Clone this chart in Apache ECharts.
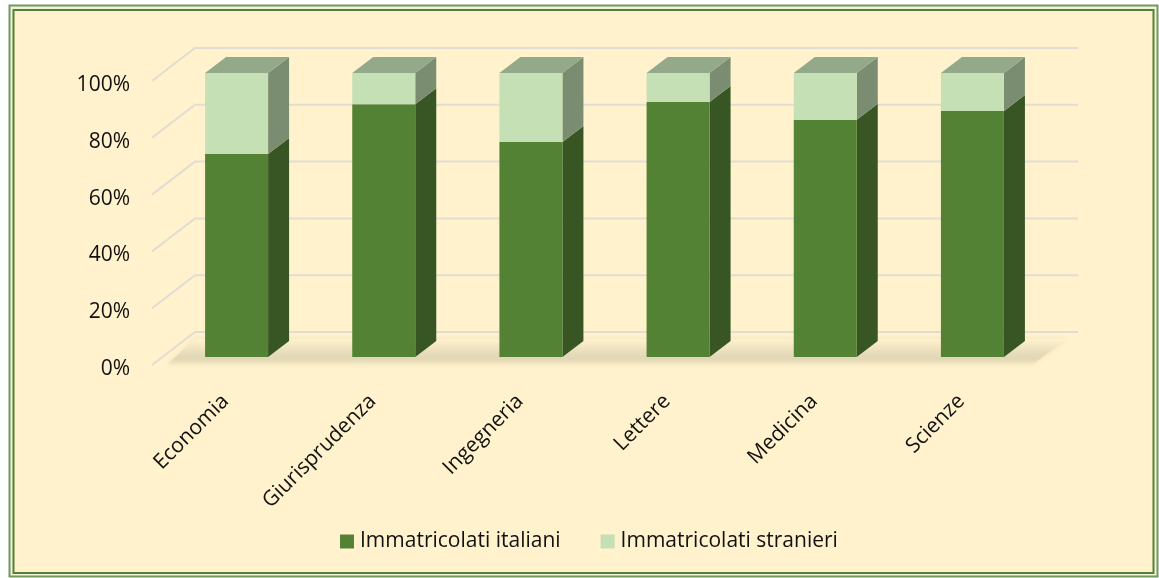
<!DOCTYPE html>
<html><head><meta charset="utf-8">
<style>html,body{margin:0;padding:0;background:#fff}#c{width:1159px;height:578px}</style>
<script src="https://cdn.jsdelivr.net/npm/echarts@6/dist/echarts.min.js"></script>
</head><body><div id="c"></div>
<script>
const categories = ['Economia','Giurisprudenza','Ingegneria','Lettere','Medicina','Scienze'];
const italiani = [71.5,89,75.7,89.8,83.5,86.6];
const stranieri = [28.5,11,24.3,10.2,16.5,13.4];
const yTicks = [0,20,40,60,80,100];
const SER1='Immatricolati italiani', SER2='Immatricolati stranieri';
const FONT='"Open Sans", sans-serif';

const chart = echarts.init(document.getElementById('c'));
const DX=21, DY=16, BX=11, BY=-8, BW=63, WX=43, WY=33;

function barItem(front, side, top, drawTop){
  return function(p, api){
    const i=api.value(0), a=api.value(1), b=api.value(2);
    const c0=api.coord([i,a]), c1=api.coord([i,a+b]);
    const L=c0[0]+BX-BW/2, R=L+BW, Y0=c0[1]+BY, Y1=c1[1]+BY;
    const ch=[
      {type:'polygon',shape:{points:[[R,Y0],[R+DX,Y0-DY],[R+DX,Y1-DY],[R,Y1]]},style:{fill:side}},
      {type:'rect',shape:{x:L,y:Y1,width:BW,height:Y0-Y1},style:{fill:front}}
    ];
    if(drawTop) ch.push({type:'polygon',shape:{points:[[L,Y1],[R,Y1],[R+DX,Y1-DY],[L+DX,Y1-DY]]},style:{fill:top}});
    return {type:'group',children:ch};
  };
}
chart.setOption({
  animation:false,
  backgroundColor:'#fff',
  textStyle:{fontFamily:FONT},
  graphic:[
    {type:'rect',z:-10,silent:true,shape:{x:9.5,y:5.5,width:1148,height:571},style:{fill:'#f3f0dc',stroke:'#6f9a5a',lineWidth:2}},
    {type:'rect',z:-9,silent:true,shape:{x:13.5,y:10,width:1140,height:563},style:{fill:'#fff2cc',stroke:'#548235',lineWidth:2}}
  ],
  grid:{left:152,top:81,width:883,height:284,containLabel:false},
  legend:{left:335,top:526,itemWidth:14,itemHeight:14,itemGap:40,icon:'rect',
    textStyle:{fontFamily:FONT,fontSize:21,color:'#111',padding:[0,0,0,1]},data:[SER1,SER2]},
  xAxis:{type:'category',data:categories,axisLine:{show:false},axisTick:{show:false},
    axisLabel:{rotate:45,fontSize:21,color:'#111',margin:33,interval:0,fontFamily:FONT}},
  yAxis:{type:'value',min:0,max:100,interval:20,splitLine:{show:false},axisLine:{show:false},axisTick:{show:false},
    axisLabel:{formatter:'{a|{value}%}',margin:22,
      rich:{a:{fontSize:21,color:'#111',fontFamily:FONT,padding:[8,0,0,0]}}}},
  series:[
    {type:'custom',name:'floor',silent:true,z:1,data:[[0]],legendHoverLink:false,encode:{x:0},
      renderItem(p,api){
        const y=api.coord([0,0])[1], cs=p.coordSys, l=cs.x, r=cs.x+cs.width;
        return {type:'polygon',shape:{points:[[l+16,y-1],[r-2,y-1],[r+WX-11,y-26],[l+WX,y-26]]},
          style:{shadowBlur:5,shadowColor:'#ece1bd',fill:new echarts.graphic.LinearGradient(0,0,0,1,[{offset:0,color:'#fff2cc'},{offset:.55,color:'#e8ddbb'},{offset:.8,color:'#e2d7b5'},{offset:1,color:'#f3e7c3'}])}};
      }},
    {type:'custom',name:'wall',silent:true,z:2,data:yTicks.map(v=>[0,v]),encode:{y:1},
      renderItem(p,api){
        const y=api.coord([0,api.value(1)])[1], cs=p.coordSys, l=cs.x, r=cs.x+cs.width;
        return {type:'polyline',shape:{points:[[l,y],[l+WX,y-WY],[r+WX,y-WY]]},style:{fill:null,stroke:'#e1ddd3',lineWidth:2}};
      }},
    {type:'custom',name:SER1,z:3,itemStyle:{color:'#548235'},
      data:italiani.map((v,i)=>[i,0,v]),encode:{x:0,y:2},
      renderItem:barItem('#548235','#375623','#375623',false)},
    {type:'custom',name:SER2,z:4,itemStyle:{color:'#c5e0b4'},
      data:stranieri.map((v,i)=>[i,italiani[i],v]),encode:{x:0,y:2},
      renderItem:barItem('#c5e0b4','#7b8d70','#93a98a',true)}
  ]
});
</script></body></html>
